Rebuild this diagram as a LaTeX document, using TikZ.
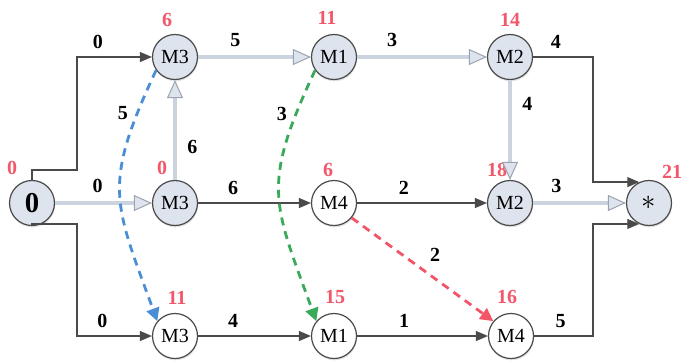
\documentclass[tikz,border=0pt]{standalone}
\usepackage{fontspec}
\setmainfont{Liberation Serif}
\usetikzlibrary{arrows.meta,positioning,calc,shadows}
\definecolor{jspNode}{HTML}{DEE4ED}
\definecolor{jspEdge}{HTML}{4A4A4A}
\definecolor{jspCp}{HTML}{CBD3DE}
\definecolor{jspCpEdge}{HTML}{9AA3AE}
\definecolor{jspTime}{HTML}{F2576A}
\definecolor{jspBlue}{HTML}{4A8FD6}
\definecolor{jspGreen}{HTML}{3BA95A}
\definecolor{jspRed}{HTML}{F25568}
\tikzset{
  jsp/.style={circle,draw=jspEdge,line width=0.6pt,fill=white,minimum size=22.5pt,inner sep=0pt,
              font=\normalsize,drop shadow={shadow xshift=0.3pt,shadow yshift=-0.9pt,fill=gray!45}},
  jspcp/.style={jsp,fill=jspNode},
  jspflow/.style={-{Triangle[length=6pt,width=5pt]},draw=jspEdge,line width=0.6pt},
  jspcpflow/.style={-{Triangle[length=9pt,width=8pt,fill=jspNode,color=jspCpEdge,line width=0.5pt]},
              draw=jspCp,line width=2.4pt},
  jspdash/.style={-{Triangle[length=6.5pt,width=6.5pt]},line width=1.4pt,dash pattern=on 4pt off 3pt},
  jsplbl/.style={font=\bfseries,text=black,inner sep=1pt},
  jsptime/.style={font=\bfseries,text=jspTime,inner sep=0pt},
}

\begin{document}
\begin{tikzpicture}[x=0.5pt,y=0.5pt]
  \useasboundingbox (0,0) rectangle (684,-361);

  % Operations, one row per job.
  \node[jspcp,font=\Large\bfseries] (s) at (32,-203) {0};
  \node[jspcp] (m3a) at (175,-57)  {M3};
  \node[jspcp] (m1a) at (334,-57)  {M1};
  \node[jspcp] (m2a) at (510,-57)  {M2};
  \node[jspcp] (m3b) at (175,-203) {M3};
  \node[jsp]   (m4b) at (334,-203) {M4};
  \node[jspcp] (m2b) at (510,-203) {M2};
  \node[jspcp,font=\Large] (fin) at (649,-203) {$\ast$};
  \node[jsp]   (m3c) at (175,-336) {M3};
  \node[jsp]   (m1c) at (334,-336) {M1};
  \node[jsp]   (m4c) at (511,-336) {M4};

  % Start times.
  \node[jsptime] (ts)  at (12,-168)  {0};
  \node[jsptime] (t3a) at (167,-20)  {6};
  \node[jsptime] (t1a) at (327,-18)  {11};
  \node[jsptime] (t2a) at (510,-20)  {14};
  \node[jsptime] (t3b) at (162,-168) {0};
  \node[jsptime] (t4b) at (328,-170) {6};
  \node[jsptime] (t2b) at (497,-170) {18};
  \node[jsptime] (tf)  at (672,-172) {21};
  \node[jsptime] (t3c) at (177,-298) {11};
  \node[jsptime] (t1c) at (335,-297) {15};
  \node[jsptime] (t4c) at (507,-297) {16};

  \coordinate (su) at (77,-170);
  \coordinate (sd) at (77,-224);
  \coordinate (ku) at (593,-57);
  \coordinate (kd) at (593,-336);

  % Job arcs.
  \draw[jspflow] (s.north) |- (su) |- node[jsplbl,above=3pt,pos=0.64]{0} (m3a.west);
  \draw[jspcpflow] (m3a) -- node[jsplbl,above=3pt,pos=0.33]{5} (m1a);
  \draw[jspcpflow] (m1a) -- node[jsplbl,above=3pt,pos=0.27]{3} (m2a);
  \draw[jspflow] (m2a.east) -- node[jsplbl,above=3pt,pos=0.38]{4} (ku) |- (fin.115);

  \draw[jspcpflow] (s) -- node[jsplbl,above=3pt,pos=0.44]{0} (m3b);
  \draw[jspflow] (m3b) -- node[jsplbl,above=3pt,pos=0.31]{6} (m4b);
  \draw[jspflow] (m4b) -- node[jsplbl,above=3pt,pos=0.36]{2} (m2b);
  \draw[jspcpflow] (m2b) -- node[jsplbl,above=3pt,pos=0.25]{3} (fin);

  \draw[jspflow] (s.south) |- (sd) |- node[jsplbl,above=3pt,pos=0.67]{0} (m3c.west);
  \draw[jspflow] (m3c) -- node[jsplbl,above=3pt,pos=0.31]{4} (m1c);
  \draw[jspflow] (m1c) -- node[jsplbl,above=3pt,pos=0.36]{1} (m4c);
  \draw[jspflow] (m4c.east) -- node[jsplbl,above=3pt,pos=0.45]{5} (kd) |- (fin.245);

  % Machine arcs.
  \draw[jspcpflow] (m3b) -- node[jsplbl,right=4pt,pos=0.33]{6} (m3a);
  \draw[jspcpflow] (m2a) -- node[jsplbl,right=4pt,pos=0.24]{4} (m2b);
  \draw[jspdash,draw=jspBlue,color=jspBlue] (m3a.215) to[out=245,in=110,looseness=1.3]
        node[jsplbl,left=3pt,pos=0.14]{5} (m3c.140);
  \draw[jspdash,draw=jspGreen,color=jspGreen] (m1a.215) to[out=245,in=110,looseness=1.3]
        node[jsplbl,left=3pt,pos=0.14]{3} (m1c.140);
  \draw[jspdash,draw=jspRed,color=jspRed] (m4b.-40) --
        node[jsplbl,above right=3pt,pos=0.5]{2} (m4c.140);
\end{tikzpicture}
\end{document}
